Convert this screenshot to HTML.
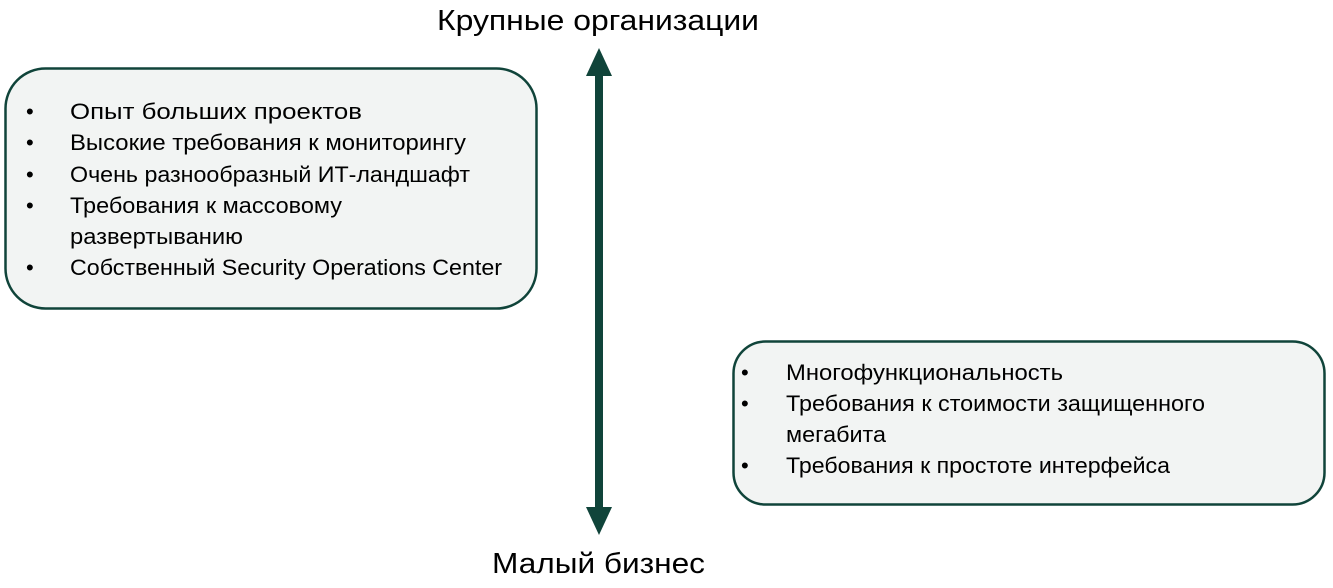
<!DOCTYPE html>
<html><head><meta charset="utf-8"><style>html,body{margin:0;padding:0;background:#fff;}svg{display:block}</style></head>
<body>
<svg width="1333" height="588" viewBox="0 0 1333 588" xmlns="http://www.w3.org/2000/svg" font-family="Liberation Sans, sans-serif" fill="#000">
<rect x="5.5" y="68.5" width="531" height="240" rx="40" fill="#f2f4f3" stroke="#10443a" stroke-width="2.5"/>
<rect x="733.5" y="341.5" width="591" height="163" rx="32" fill="#f2f4f3" stroke="#10443a" stroke-width="2.5"/>
<rect x="595" y="72" width="8" height="440" fill="#10443a"/>
<polygon points="599,48 612,76 586,76" fill="#10443a"/>
<polygon points="599,535 612,507 586,507" fill="#10443a"/>
<g font-size="29">
<text x="437" y="30" textLength="322" lengthAdjust="spacingAndGlyphs">Крупные организации</text>
<text x="492" y="573" textLength="213" lengthAdjust="spacingAndGlyphs">Малый бизнес</text>
</g>
<g font-size="22">
<text x="26" y="119">•</text><text x="70" y="119" textLength="292" lengthAdjust="spacingAndGlyphs">Опыт больших проектов</text>
<text x="26" y="150">•</text><text x="70" y="150" textLength="396" lengthAdjust="spacingAndGlyphs">Высокие требования к мониторингу</text>
<text x="26" y="182">•</text><text x="70" y="182" textLength="400" lengthAdjust="spacingAndGlyphs">Очень разнообразный ИТ-ландшафт</text>
<text x="26" y="213">•</text><text x="70" y="213" textLength="272" lengthAdjust="spacingAndGlyphs">Требования к массовому</text>
<text x="70" y="244" textLength="173" lengthAdjust="spacingAndGlyphs">развертыванию</text>
<text x="26" y="275">•</text><text x="70" y="275" textLength="432" lengthAdjust="spacingAndGlyphs">Собственный Security Operations Center</text>
<text x="741" y="380">•</text><text x="786" y="380" textLength="277" lengthAdjust="spacingAndGlyphs">Многофункциональность</text>
<text x="741" y="411">•</text><text x="786" y="411" textLength="419" lengthAdjust="spacingAndGlyphs">Требования к стоимости защищенного</text>
<text x="786" y="442" textLength="100" lengthAdjust="spacingAndGlyphs">мегабита</text>
<text x="741" y="473">•</text><text x="786" y="473" textLength="384" lengthAdjust="spacingAndGlyphs">Требования к простоте интерфейса</text>
</g>
</svg>
</body></html>
